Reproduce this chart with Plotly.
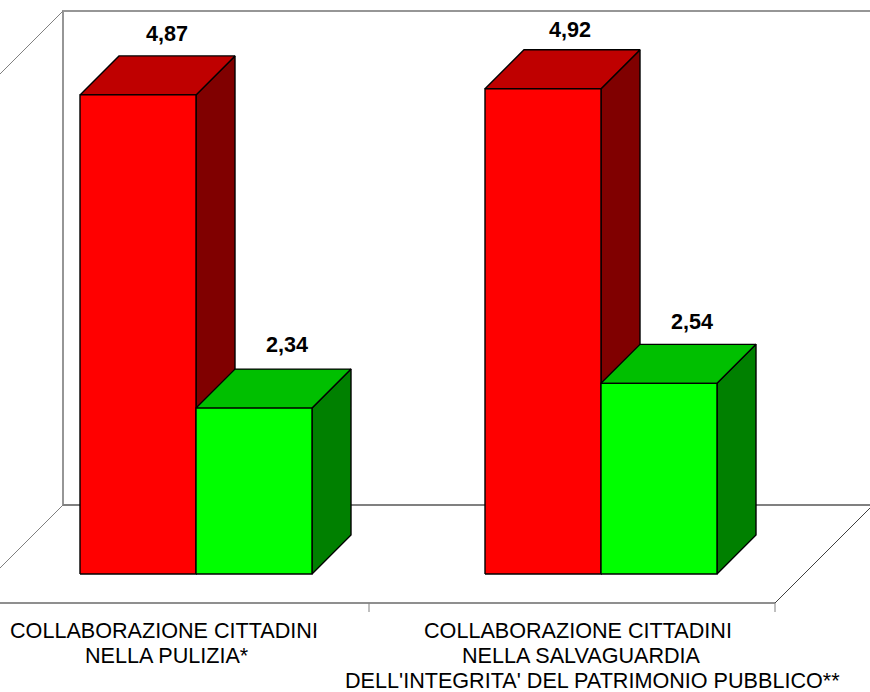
import plotly.graph_objects as go

# Data
categories = [
    ["COLLABORAZIONE CITTADINI", "NELLA PULIZIA*"],
    ["COLLABORAZIONE CITTADINI", "NELLA SALVAGUARDIA", "DELL'INTEGRITA' DEL PATRIMONIO PUBBLICO**"],
]
red_values = [4.87, 4.92]
green_values = [2.34, 2.54]
red_labels = ["4,87", "4,92"]
green_labels = ["2,34", "2,54"]

# Geometry (pixel-like x units; y scale is value based)
W, H = 870, 692
AX_MIN, AX_MAX = 1.0, 5.0
BASE_PX = 574.0
PX_PER_UNIT = 123.8
Y_LOW = AX_MIN - (H - BASE_PX) / PX_PER_UNIT
Y_HIGH = AX_MIN + BASE_PX / PX_PER_UNIT
px = 1 / PX_PER_UNIT
BAR_W = 116
BAR_D = 39
GROUP_X = [80, 485]
WALL_X = 63
WALL_D = 98
FRONT_FLOOR = AX_MIN - 29 * px
BACK_FLOOR = FRONT_FLOOR + WALL_D * px
WALL_TOP = BACK_FLOOR + 494 * px
FLOOR_RIGHT = 775
TICKS = [369, 775]

fig = go.Figure()


def poly(xs, ys, fill=None, color="#000000", width=1.4):
    fig.add_trace(go.Scatter(
        x=xs, y=ys, mode="lines", fill="toself" if fill else None,
        fillcolor=fill, line=dict(color=color, width=width),
        hoverinfo="skip", showlegend=False))


# walls and floor
poly([WALL_X, WALL_X, 880], [BACK_FLOOR, WALL_TOP, WALL_TOP], color="#969696", width=2)
poly([WALL_X, 880], [BACK_FLOOR, BACK_FLOOR], color="#808080", width=2)
poly([WALL_X, WALL_X - WALL_D], [WALL_TOP, WALL_TOP - WALL_D * px], color="#808080", width=1)
poly([WALL_X, WALL_X - WALL_D], [BACK_FLOOR, FRONT_FLOOR], color="#808080", width=1)
poly([FLOOR_RIGHT, FLOOR_RIGHT + WALL_D], [FRONT_FLOOR, BACK_FLOOR], color="#404040", width=1)
poly([-5, FLOOR_RIGHT], [FRONT_FLOOR, FRONT_FLOOR], color="#202020", width=1.2)
for t in TICKS:
    poly([t, t], [FRONT_FLOOR, FRONT_FLOOR - 9 * px], color="#808080", width=1)


def bar3d(x0, v, front, top, side):
    x1 = x0 + BAR_W
    d = BAR_D
    dv = BAR_D * px
    poly([x1, x1 + d, x1 + d, x1, x1], [AX_MIN, AX_MIN + dv, v + dv, v, AX_MIN], fill=side)
    poly([x0, x0 + d, x1 + d, x1, x0], [v, v + dv, v + dv, v, v], fill=top)
    poly([x0, x1, x1, x0, x0], [AX_MIN, AX_MIN, v, v, AX_MIN], fill=front)


# Green is drawn after red so it overlaps the red side face
for gx, r, g in zip(GROUP_X, red_values, green_values):
    bar3d(gx, r, "#FF0000", "#BF0000", "#800000")
    bar3d(gx + BAR_W, g, "#00FF00", "#00BF00", "#008000")

FONT = "Liberation Sans, Arial, sans-serif"
SIZE = 21.6
red_dx = [29, 27]
red_dy = [61, 59]
green_dx = [33, 33]
green_dy = [64, 62]
for i, (gx, r, g, rl, gl) in enumerate(zip(GROUP_X, red_values, green_values, red_labels, green_labels)):
    fig.add_annotation(x=gx + BAR_W / 2 + red_dx[i], y=r, yshift=red_dy[i], text=f"<b>{rl}</b>",
                       showarrow=False, font=dict(family=FONT, size=SIZE, color="black"))
    fig.add_annotation(x=gx + 1.5 * BAR_W + green_dx[i], y=g, yshift=green_dy[i], text=f"<b>{gl}</b>",
                       showarrow=False, font=dict(family=FONT, size=SIZE, color="black"))

# category labels
label_x = [[164, 167], [578, 581, 592.5]]
label_top = [630, 655, 680]
for lines, xs in zip(categories, label_x):
    for line, x, ypx in zip(lines, xs, label_top):
        fig.add_annotation(x=x, y=AX_MIN - (ypx - BASE_PX) * px, text=line, showarrow=False,
                           font=dict(family=FONT, size=SIZE, color="black"))

fig.update_layout(
    width=W, height=H, margin=dict(l=0, r=0, t=0, b=0),
    paper_bgcolor="white", plot_bgcolor="white", showlegend=False,
    xaxis=dict(range=[0, W], visible=False, fixedrange=True),
    yaxis=dict(range=[Y_LOW, Y_HIGH], visible=False, fixedrange=True),
)
fig.write_html("out.html", config={"displayModeBar": False},
               post_script="document.body.style.margin='0';")
